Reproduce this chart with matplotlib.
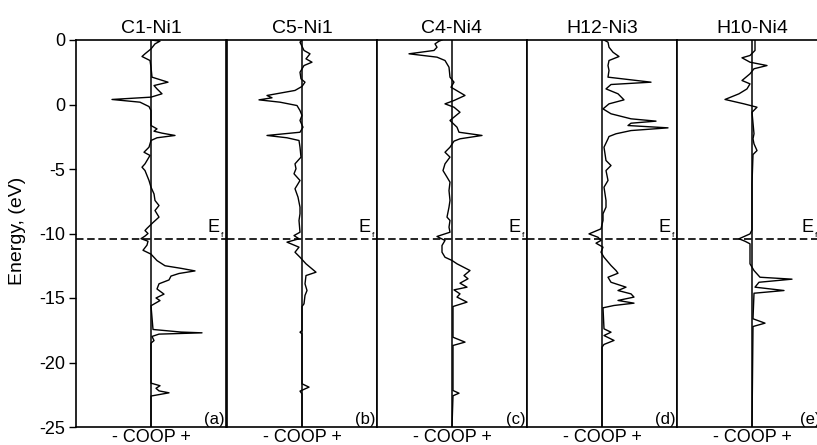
import matplotlib
matplotlib.use("Agg")
import matplotlib.pyplot as plt

plt.rcParams['font.family'] = ['Liberation Sans', 'DejaVu Sans']

# ---------------- data ----------------
titles = ["C1-Ni1", "C5-Ni1", "C4-Ni4", "H12-Ni3", "H10-Ni4"]
letters = ["(a)", "(b)", "(c)", "(d)", "(e)"]
ytick_values = [-25, -20, -15, -10, -5, 0, 5]
ytick_labels = ["-25", "-20", "-15", "-10", "-5", "0", "0"]
fermi_level = -10.4

energy_c1ni1 = [5.0, 4.91, 4.70, 4.31, 3.93, 3.72, 3.41, 2.89, 2.12, 1.73, 1.47, 1.21, 0.83, 0.57,
                0.39, 0.18, -0.16, -0.47, -1.63, -1.89, -2.07, -2.22, -2.40, -2.58, -2.79, -3.31,
                -3.70, -3.95, -4.60, -4.86, -5.12, -5.89, -6.41, -6.93, -7.44, -7.83, -8.22, -8.73,
                -9.15, -9.60, -9.77, -10.0, -10.2, -10.4, -10.6, -10.9, -11.3, -11.6, -12.1, -12.5,
                -12.7, -12.9, -13.1, -13.3, -13.6, -13.9, -14.3, -14.7, -15.0, -15.2, -15.6, -17.44,
                -17.64, -17.70, -17.8, -17.98, -18.3, -18.5, -21.6, -21.8, -22.0, -22.2, -22.35,
                -22.6, -25.0]
coop_c1ni1 = [0, 9, 4, 0, -6, -9, -1, 0, 1, 17, 3, 6, 11, 0,
              -39, -11, -2, 0, 0, 6, 3, 11, 24, 6, 0, -2,
              -7, -1, -6, -9, -6, -2, 0, 3, 4, 8, 4, 8,
              2, -4, -6, -3, -6, -10, -3, -4, -8, 0, 6, 14,
              30, 44, 28, 20, 18, 8, 6, 13, 5, 9, 0, 2,
              30, 51, 8, 1, 3, 0, 0, 9, 5, 8, 18,
              0, 0]

energy_c5ni1 = [5.0, 4.83, 4.19, 3.93, 3.54, 3.28, 3.02, 2.5, 1.99, 1.73, 1.4, 1.09, 0.7, 0.52, 0.36,
                0.18, -0.08, -0.47, -0.85, -1.24, -1.76, -2.15, -2.4, -2.58, -2.79, -3.31, -4.08,
                -4.6, -4.98, -5.37, -5.89, -6.15, -6.53, -7.18, -7.96, -8.47, -8.99, -9.9, -10.16,
                -10.41, -10.67, -11.06, -11.45, -11.84, -12.35, -13.0, -13.26, -13.9, -14.42, -14.8,
                -15.45, -15.66, -17.52, -17.65, -17.78, -21.65, -21.91, -22.22, -22.43, -25.0]
coop_c5ni1 = [0, -2, 2, 8, 4, 10, 2, -2, -1, 3, 0, -7, -35, -30, -43,
              -22, -5, -2, 0, -2, 1, -2, -35, -15, -3, -2, -1,
              -7, -6, -8, -2, -4, -7, -4, -2, -2, -3, -2, -8,
              -3, -15, -3, -7, -2, 4, 14, 4, 3, 5, 3,
              2, 0, 0, -2, 0, 0, 7, -2, 0, 0]

energy_c4ni4 = [5.0, 4.91, 4.70, 4.44, 4.19, 3.93, 3.67, 3.41, 2.89, 2.12, 1.73, 1.34, 0.7, 0.31, 0.05,
                -0.21, -0.6, -0.98, -1.24, -1.76, -2.15, -2.4, -2.66, -2.84, -3.31, -3.7, -4.08,
                -4.6, -5.12, -5.63, -6.02, -6.67, -7.44, -7.96, -8.73, -8.99, -9.51, -9.9, -10.23,
                -10.54, -10.93, -11.45, -11.84, -12.09, -12.35, -12.87, -13.26, -13.51, -13.85,
                -14.16, -14.37, -14.68, -14.93, -15.32, -15.66, -18.04, -18.42, -18.68, -22.17,
                -22.38, -22.58, -25.0]
coop_c4ni4 = [-10, -13, -17, -15, -18, -43, -15, -7, -3, -2, 2, -1, 13, 2, -7,
              2, 8, 2, -2, 5, 7, 30, 8, 2, -2, -7, -2,
              -7, -9, -5, -2, -3, -2, -3, -5, -2, -3, -2, -15,
              -7, -10, -10, -7, 0, 5, 18, 12, 16, 8,
              15, 2, 8, 5, 15, 1, 1, 13, 1, 1,
              7, 1, 0]

energy_h12ni3 = [5.0, 4.83, 4.44, 4.05, 3.72, 3.41, 3.02, 2.64, 2.12, 1.73, 1.55, 1.21, 0.83, 0.36,
                 0.05, -0.34, -0.72, -1.11, -1.29, -1.45, -1.63, -1.81, -2.02, -2.27, -2.48, -2.66,
                 -3.31, -4.34, -4.73, -5.12, -5.89, -6.41, -7.44, -7.96, -8.47, -8.99, -9.64,
                 -10.03, -10.29, -10.54, -10.75, -11.06, -11.45, -11.84, -12.48, -12.87, -13.08,
                 -13.39, -13.78, -14.16, -14.42, -14.68, -14.93, -15.19, -15.4, -15.58, -15.76,
                 -17.39, -17.65, -17.91, -18.29, -18.6, -18.81, -25.0]
coop_h12ni3 = [2, 6, 7, 11, 17, 7, 6, 7, 6, 49, 9, 4, 16, 22,
               7, 1, 9, 29, 54, 29, 26, 66, 29, 14, 7, 6,
               2, 4, 9, 4, 6, 2, 4, 4, 1, 1, -1,
               -13, -4, -1, -6, 1, -1, 2, 9, 14, 16,
               6, 9, 24, 16, 29, 32, 16, 32, 12, 1,
               2, 9, 2, 12, 2, 0, 0]

energy_h10ni4 = [5.0, 4.83, 4.19, 3.8, 3.62, 3.28, 3.02, 2.77, 2.38, 1.86, 1.6, 1.21, 0.83, 0.39,
                 0.05, -0.21, -0.6, -2.27, -2.66, -3.05, -3.57, -3.88, -6.15, -9.72, -10.03,
                 -10.41, -10.6, -10.8, -11.32, -11.84, -12.35, -12.87, -13.39, -13.54, -13.78,
                 -14.16, -14.42, -14.63, -16.61, -16.95, -17.21, -25.0]
coop_h10ni4 = [3, 3, 3, -2, -10, -2, 15, 2, -2, -10, -2, -5, -13, -27,
               -8, 5, 0, 2, 1, 2, 5, 1, 0, 0, -2,
               -13, -7, -2, -2, -2, -2, 2, 8, 40, 7,
               3, 32, 2, 1, 13, 1, 0]

energies = [energy_c1ni1, energy_c5ni1, energy_c4ni4, energy_h12ni3, energy_h10ni4]
coops = [coop_c1ni1, coop_c5ni1, coop_c4ni4, coop_h12ni3, coop_h10ni4]

# ---------------- layout ----------------
W, H = 817, 445
fig = plt.figure(figsize=(W / 100, H / 100), dpi=100)

panel_left_px = [76, 227, 377, 527, 677]
panel_w_px = 150
ax_top_px, ax_bot_px = 40, 427
# label placement (axes fraction) per panel
ef_x = [0.875, 0.875, 0.875, 0.875, 0.83]
letter_x = [0.99, 0.99, 0.99, 0.99, 0.955]

for i in range(5):
    l = panel_left_px[i]
    ax = fig.add_axes([l / W, (H - ax_bot_px) / H, panel_w_px / W, (ax_bot_px - ax_top_px) / H])
    ax.plot(coops[i], energies[i], color='black', lw=1.0, zorder=3)
    ax.axvline(0, color='black', lw=1.1, zorder=2)
    ax.axhline(fermi_level, color='black', lw=1.2, ls=(0, (4.5, 2.2)), zorder=2)
    ax.set_xlim(-75, 75)
    ax.set_ylim(-25, 5)
    ax.set_xticks([])
    for s in ax.spines.values():
        s.set_linewidth(1.2)
    if i == 0:
        ax.set_yticks(ytick_values)
        ax.set_yticklabels(ytick_labels)
        ax.tick_params(axis='y', direction='out', length=5, width=1.0, labelsize=13, pad=3)
    else:
        ax.set_yticks([])
    ax.set_title(titles[i], fontsize=14, pad=5)
    tr = ax.get_yaxis_transform()
    ax.text(ef_x[i], -9.9, "E", transform=tr, fontsize=13, ha='left', va='baseline')
    ax.text(ef_x[i] + 0.09, -10.25, "f", transform=tr, fontsize=6, ha='left', va='baseline')
    ax.text(letter_x[i], -24.75, letters[i], transform=tr, fontsize=12,
            ha='right', va='baseline')
    ax.text(0.5, -0.006, "- COOP +", transform=ax.transAxes, fontsize=13,
            ha='center', va='top', clip_on=False)

fig.text(18 / W, (H - 231) / H, "Energy, (eV)", rotation=90, fontsize=14,
         ha='center', va='center')

fig.savefig("out.png", dpi=100)
